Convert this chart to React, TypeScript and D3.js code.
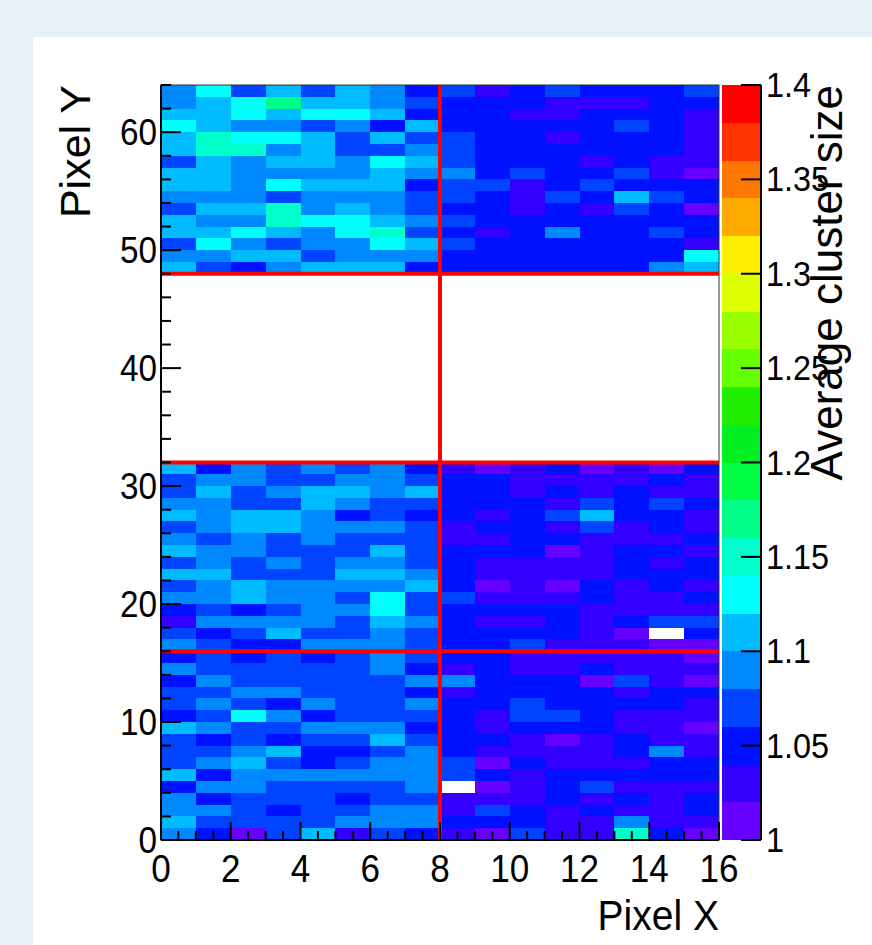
import React, { useRef, useEffect } from "react";
import { select, scaleLinear, scaleQuantize, range } from "d3";

const W = 872;
const H = 945;
const PLOT = { left: 161, right: 719, top: 85, bottom: 840 };
const BAR = { left: 722, right: 761 };
const FONT = "'Liberation Sans', Arial, Helvetica, sans-serif";

// average cluster size per pixel, rows listed from top (y bin 63) downwards
const rowsTop = [
  [1.09, 1.13, 1.07, 1.11, 1.07, 1.11, 1.09, 1.05, 1.07, 1.03, 1.05, 1.07, 1.05, 1.05, 1.05, 1.07],
  [1.09, 1.11, 1.13, 1.17, 1.11, 1.11, 1.09, 1.07, 1.05, 1.05, 1.05, 1.03, 1.03, 1.03, 1.05, 1.05],
  [1.11, 1.11, 1.13, 1.11, 1.13, 1.13, 1.11, 1.05, 1.05, 1.05, 1.03, 1.03, 1.05, 1.05, 1.05, 1.03],
  [1.13, 1.11, 1.09, 1.09, 1.07, 1.09, 1.05, 1.11, 1.05, 1.05, 1.05, 1.05, 1.05, 1.07, 1.05, 1.03],
  [1.11, 1.15, 1.13, 1.13, 1.11, 1.07, 1.11, 1.07, 1.07, 1.05, 1.05, 1.03, 1.05, 1.05, 1.05, 1.03],
  [1.11, 1.15, 1.15, 1.09, 1.11, 1.07, 1.07, 1.09, 1.07, 1.05, 1.05, 1.05, 1.05, 1.05, 1.05, 1.03],
  [1.07, 1.11, 1.09, 1.11, 1.11, 1.09, 1.13, 1.11, 1.07, 1.05, 1.05, 1.05, 1.03, 1.05, 1.03, 1.03],
  [1.11, 1.11, 1.09, 1.09, 1.09, 1.09, 1.11, 1.09, 1.09, 1.05, 1.07, 1.05, 1.05, 1.07, 1.03, 1.01],
  [1.11, 1.11, 1.09, 1.13, 1.11, 1.11, 1.11, 1.05, 1.07, 1.07, 1.03, 1.05, 1.07, 1.05, 1.05, 1.05],
  [1.09, 1.09, 1.09, 1.07, 1.09, 1.09, 1.09, 1.07, 1.07, 1.05, 1.03, 1.07, 1.05, 1.11, 1.07, 1.05],
  [1.07, 1.11, 1.11, 1.15, 1.09, 1.11, 1.09, 1.07, 1.05, 1.05, 1.03, 1.05, 1.03, 1.07, 1.05, 1.01],
  [1.11, 1.09, 1.09, 1.15, 1.13, 1.13, 1.11, 1.09, 1.07, 1.05, 1.05, 1.05, 1.05, 1.05, 1.05, 1.05],
  [1.11, 1.11, 1.13, 1.11, 1.09, 1.13, 1.15, 1.07, 1.05, 1.03, 1.05, 1.09, 1.05, 1.05, 1.07, 1.05],
  [1.07, 1.13, 1.09, 1.07, 1.09, 1.09, 1.13, 1.11, 1.07, 1.05, 1.05, 1.05, 1.05, 1.05, 1.05, 1.03],
  [1.09, 1.09, 1.11, 1.11, 1.07, 1.09, 1.09, 1.09, 1.05, 1.05, 1.05, 1.05, 1.05, 1.05, 1.05, 1.13],
  [1.11, 1.07, 1.05, 1.09, 1.11, 1.11, 1.11, 1.05, 1.05, 1.05, 1.05, 1.05, 1.05, 1.05, 1.09, 1.11],
];

// y bins 31 down to 16
const rowsMiddle = [
  [1.11, 1.05, 1.09, 1.07, 1.09, 1.07, 1.09, 1.05, 1.03, 1.01, 1.03, 1.05, 1.01, 1.03, 1.01, 1.05],
  [1.07, 1.09, 1.09, 1.07, 1.07, 1.09, 1.09, 1.07, 1.05, 1.05, 1.03, 1.03, 1.03, 1.03, 1.05, 1.03],
  [1.07, 1.11, 1.07, 1.09, 1.11, 1.11, 1.09, 1.11, 1.05, 1.05, 1.03, 1.05, 1.03, 1.05, 1.03, 1.03],
  [1.09, 1.09, 1.07, 1.07, 1.11, 1.09, 1.07, 1.07, 1.05, 1.05, 1.05, 1.03, 1.07, 1.05, 1.07, 1.05],
  [1.11, 1.09, 1.11, 1.11, 1.09, 1.05, 1.07, 1.05, 1.05, 1.03, 1.05, 1.07, 1.11, 1.05, 1.05, 1.03],
  [1.07, 1.09, 1.11, 1.11, 1.09, 1.09, 1.09, 1.07, 1.03, 1.05, 1.05, 1.03, 1.07, 1.03, 1.05, 1.03],
  [1.09, 1.07, 1.09, 1.07, 1.09, 1.07, 1.07, 1.07, 1.03, 1.03, 1.05, 1.05, 1.03, 1.03, 1.03, 1.05],
  [1.11, 1.09, 1.09, 1.07, 1.07, 1.07, 1.11, 1.07, 1.05, 1.05, 1.05, 1.01, 1.03, 1.05, 1.05, 1.03],
  [1.07, 1.09, 1.07, 1.09, 1.07, 1.09, 1.09, 1.07, 1.05, 1.03, 1.03, 1.03, 1.03, 1.05, 1.03, 1.05],
  [1.11, 1.11, 1.07, 1.07, 1.07, 1.11, 1.11, 1.09, 1.05, 1.03, 1.03, 1.03, 1.03, 1.05, 1.05, 1.05],
  [1.07, 1.09, 1.11, 1.09, 1.09, 1.09, 1.09, 1.11, 1.05, 1.01, 1.03, 1.01, 1.05, 1.03, 1.05, 1.03],
  [1.09, 1.09, 1.11, 1.09, 1.09, 1.07, 1.13, 1.07, 1.07, 1.03, 1.03, 1.03, 1.05, 1.03, 1.03, 1.05],
  [1.05, 1.07, 1.05, 1.07, 1.09, 1.09, 1.13, 1.07, 1.05, 1.05, 1.05, 1.05, 1.03, 1.03, 1.03, 1.03],
  [1.03, 1.09, 1.09, 1.09, 1.09, 1.07, 1.11, 1.09, 1.05, 1.03, 1.03, 1.05, 1.03, 1.05, 1.07, 1.07],
  [1.07, 1.05, 1.07, 1.11, 1.07, 1.07, 1.09, 1.07, 1.05, 1.05, 1.05, 1.05, 1.03, 1.01, null, 1.05],
  [1.09, 1.07, 1.05, 1.05, 1.09, 1.09, 1.09, 1.07, 1.05, 1.05, 1.07, 1.03, 1.03, 1.03, 1.01, 1.01],
];

// y bins 15 down to 0
const rowsBottom = [
  [1.05, 1.07, 1.05, 1.07, 1.05, 1.07, 1.09, 1.07, 1.05, 1.05, 1.03, 1.03, 1.03, 1.03, 1.03, 1.01],
  [1.09, 1.07, 1.07, 1.07, 1.07, 1.07, 1.09, 1.05, 1.03, 1.05, 1.03, 1.03, 1.05, 1.03, 1.03, 1.03],
  [1.05, 1.09, 1.07, 1.07, 1.07, 1.07, 1.07, 1.09, 1.09, 1.05, 1.05, 1.05, 1.01, 1.07, 1.03, 1.01],
  [1.07, 1.07, 1.09, 1.09, 1.07, 1.07, 1.07, 1.05, 1.03, 1.05, 1.05, 1.05, 1.05, 1.03, 1.05, 1.05],
  [1.07, 1.09, 1.07, 1.05, 1.09, 1.07, 1.07, 1.09, 1.05, 1.05, 1.07, 1.05, 1.05, 1.05, 1.05, 1.03],
  [1.05, 1.07, 1.13, 1.09, 1.05, 1.07, 1.07, 1.07, 1.05, 1.03, 1.07, 1.07, 1.05, 1.03, 1.03, 1.03],
  [1.11, 1.09, 1.07, 1.07, 1.09, 1.09, 1.09, 1.05, 1.05, 1.03, 1.05, 1.05, 1.05, 1.03, 1.03, 1.01],
  [1.07, 1.05, 1.07, 1.05, 1.07, 1.07, 1.11, 1.07, 1.05, 1.05, 1.03, 1.01, 1.03, 1.05, 1.03, 1.03],
  [1.07, 1.07, 1.09, 1.11, 1.05, 1.05, 1.07, 1.09, 1.05, 1.03, 1.03, 1.03, 1.03, 1.05, 1.09, 1.03],
  [1.07, 1.09, 1.11, 1.07, 1.05, 1.07, 1.09, 1.09, 1.07, 1.01, 1.05, 1.03, 1.03, 1.03, 1.05, 1.05],
  [1.11, 1.05, 1.09, 1.09, 1.09, 1.09, 1.09, 1.09, 1.07, 1.05, 1.03, 1.05, 1.05, 1.05, 1.05, 1.05],
  [1.05, 1.09, 1.09, 1.07, 1.07, 1.07, 1.07, 1.09, null, 1.01, 1.03, 1.05, 1.07, 1.03, 1.03, 1.03],
  [1.09, 1.05, 1.07, 1.07, 1.07, 1.05, 1.07, 1.07, 1.03, 1.03, 1.03, 1.05, 1.03, 1.05, 1.03, 1.05],
  [1.09, 1.09, 1.07, 1.05, 1.07, 1.07, 1.09, 1.09, 1.03, 1.07, 1.05, 1.03, 1.05, 1.03, 1.03, 1.05],
  [1.11, 1.07, 1.07, 1.07, 1.07, 1.09, 1.09, 1.09, 1.05, 1.05, 1.05, 1.03, 1.03, 1.09, 1.03, 1.03],
  [1.09, 1.05, 1.01, 1.07, 1.11, 1.03, 1.07, 1.05, 1.03, 1.01, 1.07, 1.03, 1.03, 1.15, 1.05, 1.01],
];

const blocks = [
  { topBin: 63, rows: rowsTop },
  { topBin: 31, rows: rowsMiddle },
  { topBin: 15, rows: rowsBottom },
];

const palette = [
  "#6600ff", "#3300ff", "#0011ff", "#0044ff", "#0088ff",
  "#00bbff", "#00ffff", "#00ffcc", "#00ff88", "#00ff44",
  "#00ee22", "#22ee00", "#66ff00", "#99ff00", "#ddff00",
  "#ffee00", "#ffaa00", "#ff7700", "#ff3300", "#ff0000",
];

const xTicksMajor = [0, 2, 4, 6, 8, 10, 12, 14, 16];
const yTicksMajor = [0, 10, 20, 30, 40, 50, 60];
const zTicks = [1, 1.05, 1.1, 1.15, 1.2, 1.25, 1.3, 1.35, 1.4];
const hLines = [16, 32, 48];
const vLines = [8];

export default function App() {
  const ref = useRef(null);

  useEffect(() => {
    const svg = select(ref.current);
    svg.selectAll("*").remove();

    const x = scaleLinear().domain([0, 16]).range([PLOT.left, PLOT.right]);
    const y = scaleLinear().domain([0, 64]).range([PLOT.bottom, PLOT.top]);
    const z = scaleLinear().domain([1, 1.4]).range([PLOT.bottom, PLOT.top]);
    const color = scaleQuantize().domain([1, 1.4]).range(palette);

    svg.append("rect").attr("width", W).attr("height", H).attr("fill", "#eaf0f8");
    svg.append("rect").attr("x", 33).attr("y", 37).attr("width", W - 33).attr("height", H - 37).attr("fill", "#fff");

    // cells
    const cells = [];
    blocks.forEach((b) =>
      b.rows.forEach((row, i) =>
        row.forEach((v, c) => {
          if (v != null) cells.push({ c, r: b.topBin - i, v });
        })
      )
    );
    svg
      .append("g")
      .attr("shape-rendering", "crispEdges")
      .selectAll("rect")
      .data(cells)
      .join("rect")
      .attr("x", (d) => x(d.c))
      .attr("y", (d) => y(d.r + 1))
      .attr("width", (d) => x(d.c + 1) - x(d.c))
      .attr("height", (d) => y(d.r) - y(d.r + 1))
      .attr("fill", (d) => color(d.v));

    // red module boundaries
    const red = svg.append("g").attr("stroke", "#ff0000").attr("stroke-width", 4);
    hLines.forEach((v) =>
      red.append("line").attr("x1", PLOT.left).attr("x2", PLOT.right).attr("y1", y(v)).attr("y2", y(v))
    );
    vLines.forEach((v) =>
      red.append("line").attr("x1", x(v)).attr("x2", x(v)).attr("y1", PLOT.top).attr("y2", PLOT.bottom)
    );

    // frame
    svg
      .append("rect")
      .attr("x", PLOT.left)
      .attr("y", PLOT.top)
      .attr("width", PLOT.right - PLOT.left)
      .attr("height", PLOT.bottom - PLOT.top)
      .attr("fill", "none")
      .attr("stroke", "#333")
      .attr("stroke-width", 1);

    const axes = svg.append("g").attr("stroke", "#000").attr("stroke-width", 2);
    axes.append("line").attr("x1", PLOT.left).attr("x2", PLOT.right).attr("y1", PLOT.bottom).attr("y2", PLOT.bottom);
    axes.append("line").attr("x1", PLOT.left).attr("x2", PLOT.left).attr("y1", PLOT.top).attr("y2", PLOT.bottom);

    // x ticks
    range(0, 16.01, 0.5).forEach((v) => {
      const major = v % 2 === 0;
      axes
        .append("line")
        .attr("x1", x(v))
        .attr("x2", x(v))
        .attr("y1", PLOT.bottom)
        .attr("y2", PLOT.bottom - (major ? 18 : 9));
    });
    // y ticks
    range(0, 64.01, 2).forEach((v) => {
      const major = v % 10 === 0;
      axes
        .append("line")
        .attr("x1", PLOT.left)
        .attr("x2", PLOT.left + (major ? 20 : 10))
        .attr("y1", y(v))
        .attr("y2", y(v));
    });

    const text = svg.append("g").attr("font-family", FONT).attr("fill", "#000");

    text
      .selectAll("text.xl")
      .data(xTicksMajor)
      .join("text")
      .attr("transform", (d) => `translate(${x(d)},882) scale(0.9,1)`)
      .attr("text-anchor", "middle")
      .attr("font-size", 39)
      .text((d) => d);

    text
      .selectAll("text.yl")
      .data(yTicksMajor)
      .join("text")
      .attr("transform", (d) => `translate(157,${y(d) + 13}) scale(0.9,1)`)
      .attr("text-anchor", "end")
      .attr("font-size", 37)
      .text((d) => d);

    text
      .append("text")
      .attr("transform", `translate(${PLOT.right},930) scale(0.93,1)`)
      .attr("text-anchor", "end")
      .attr("font-size", 42)
      .text("Pixel X");

    text
      .append("text")
      .attr("transform", `translate(90,${PLOT.top}) rotate(-90)`)
      .attr("text-anchor", "end")
      .attr("font-size", 43)
      .text("Pixel Y");

    // color bar
    const bar = svg.append("g").attr("shape-rendering", "crispEdges");
    bar
      .selectAll("rect")
      .data(palette)
      .join("rect")
      .attr("x", BAR.left)
      .attr("width", BAR.right - BAR.left)
      .attr("y", (d, i) => z(1 + (i + 1) * 0.02))
      .attr("height", (d, i) => z(1 + i * 0.02) - z(1 + (i + 1) * 0.02))
      .attr("fill", (d) => d);

    const barAxis = svg.append("g").attr("stroke", "#000").attr("stroke-width", 2);
    barAxis.append("line").attr("x1", BAR.right).attr("x2", BAR.right).attr("y1", PLOT.top).attr("y2", PLOT.bottom);
    zTicks.forEach((v) =>
      barAxis.append("line").attr("x1", BAR.right - 20).attr("x2", BAR.right).attr("y1", z(v)).attr("y2", z(v))
    );

    text
      .selectAll("text.zl")
      .data(zTicks)
      .join("text")
      .attr("transform", (d) => `translate(766,${z(d) + 12}) scale(0.9,1)`)
      .attr("font-size", 36)
      .text((d) => d);

    text
      .append("text")
      .attr("transform", `translate(842,${PLOT.top}) rotate(-90)`)
      .attr("text-anchor", "end")
      .attr("font-size", 44)
      .text("Average cluster size");
  }, []);

  return (
    <svg
      ref={ref}
      width={W}
      height={H}
      style={{ position: "absolute", left: 0, top: 0, display: "block" }}
    />
  );
}
